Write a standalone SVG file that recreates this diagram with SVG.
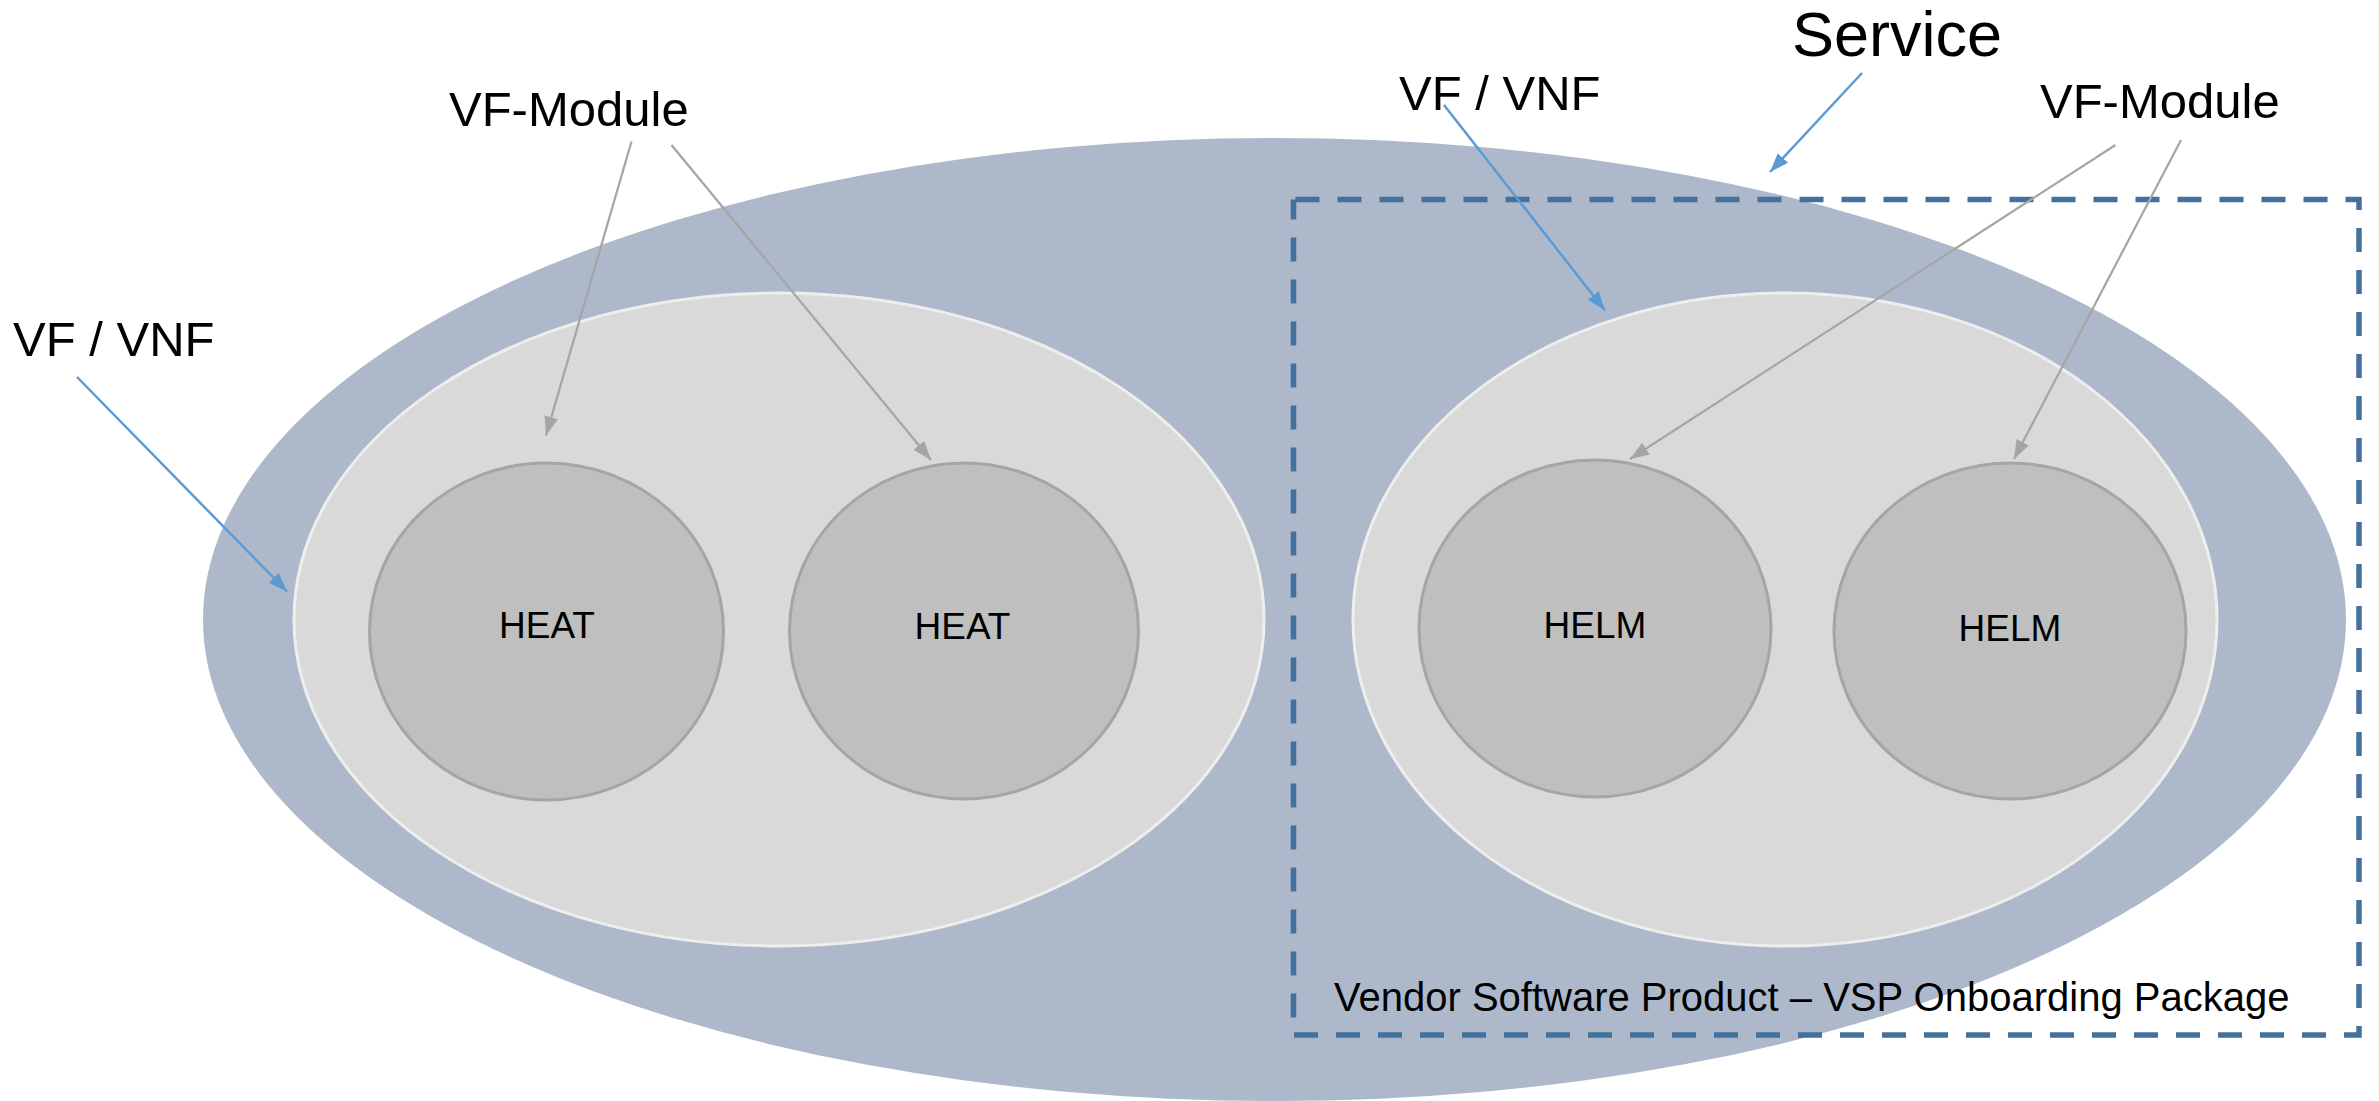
<svg xmlns="http://www.w3.org/2000/svg" width="2379" height="1101" viewBox="0 0 2379 1101">
<defs>
<style>
.service{fill:#ADB9CA;stroke:none}
.vf{fill:#D9D9D9;stroke:#EEEEEE;stroke-width:3}
.mod{fill:#BFBFBF;stroke:#A5A5A5;stroke-width:3}
.lbl{font-family:"Liberation Sans",Arial,sans-serif;fill:#000}
.big{font-size:49px}
.in{font-size:37px;text-anchor:middle}
.blue{stroke:#5B9BD5;stroke-width:2.5;fill:none;marker-end:url(#ab)}
.gray{stroke:#A5A5A5;stroke-width:2.25;fill:none;marker-end:url(#ag)}
.vsp{fill:none;stroke:#41719C;stroke-width:5.5;stroke-dasharray:24 18}
</style>
<marker id="ab" markerUnits="userSpaceOnUse" markerWidth="20" markerHeight="16" refX="19" refY="8" orient="auto"><path d="M0,1 L19,8 L0,15 z" fill="#5B9BD5"/></marker>
<marker id="ag" markerUnits="userSpaceOnUse" markerWidth="20" markerHeight="16" refX="19" refY="8" orient="auto"><path d="M0,1 L19,8 L0,15 z" fill="#A5A5A5"/></marker>
</defs>
<rect width="2379" height="1101" fill="#FFFFFF"/>
<g id="service">
<ellipse class="service" cx="1274.5" cy="619.5" rx="1071.5" ry="481.5"/>
</g>
<g id="vf-left">
<ellipse class="vf" cx="779" cy="619.5" rx="485" ry="326.5"/>
</g>
<g id="vf-right">
<ellipse class="vf" cx="1785" cy="619.5" rx="432" ry="326.5"/>
</g>
<g id="heat1">
<ellipse class="mod" cx="546.5" cy="631.5" rx="177" ry="168.5"/>
<text class="lbl in" x="547" y="638">HEAT</text>
</g>
<g id="heat2">
<ellipse class="mod" cx="964" cy="631" rx="174.5" ry="168"/>
<text class="lbl in" x="962.5" y="639">HEAT</text>
</g>
<g id="helm1">
<ellipse class="mod" cx="1595" cy="628.5" rx="176" ry="168.5"/>
<text class="lbl in" x="1595" y="638">HELM</text>
</g>
<g id="helm2">
<ellipse class="mod" cx="2010" cy="631" rx="176" ry="168"/>
<text class="lbl in" x="2010" y="641">HELM</text>
</g>
<g id="vsp">
<rect class="vsp" x="1293.5" y="199.5" width="1065.5" height="835.5" stroke-dashoffset="-2"/>
<text class="lbl" x="1334" y="1011" font-size="40">Vendor Software Product – VSP Onboarding Package</text>
</g>
<g id="labels">
<text class="lbl big" x="13" y="356">VF / VNF</text>
<text class="lbl big" x="449" y="126">VF-Module</text>
<text class="lbl big" x="1399" y="110">VF / VNF</text>
<text class="lbl" x="1792" y="56" font-size="63">Service</text>
<text class="lbl big" x="2040" y="118">VF-Module</text>
</g>
<g id="connectors">
<line class="blue" x1="77" y1="377" x2="287" y2="591.5"/>
<line class="blue" x1="1444" y1="105" x2="1605" y2="310.5"/>
<line class="blue" x1="1862" y1="73" x2="1770" y2="172"/>
<line class="gray" x1="631.5" y1="141.5" x2="546" y2="435.5"/>
<line class="gray" x1="671.5" y1="145" x2="931" y2="460"/>
<line class="gray" x1="2115.5" y1="145" x2="1630" y2="459"/>
<line class="gray" x1="2181" y1="140" x2="2014" y2="459"/>
</g>
</svg>
